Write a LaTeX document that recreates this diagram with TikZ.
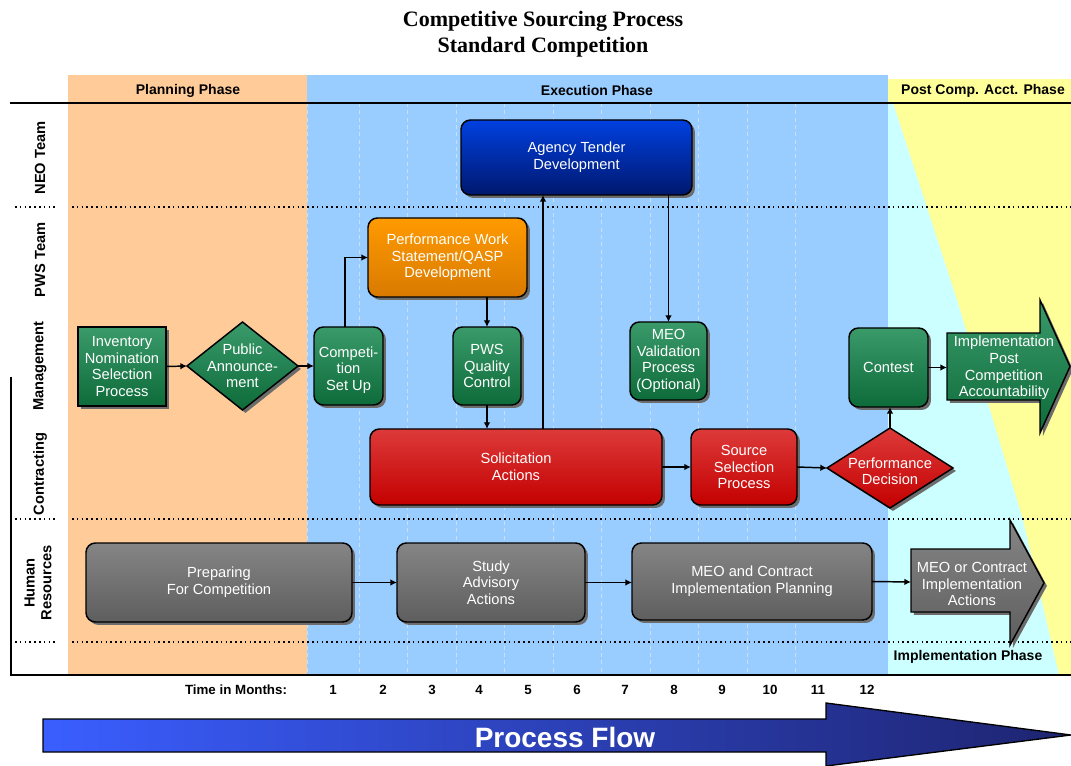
\documentclass[tikz,border=0pt]{standalone}
\usepackage{fontspec}
\setmainfont{Liberation Sans}
\newfontfamily\titlefont{Liberation Serif}
\usetikzlibrary{shapes.geometric,shadows,arrows.meta,fit,calc}
\definecolor{bgOr}{HTML}{FFCC99}
\definecolor{bgBl}{HTML}{99CCFF}
\definecolor{bgCy}{HTML}{CCFFFF}
\definecolor{bgYe}{HTML}{FFFF99}
\definecolor{grnT}{HTML}{3A9A6A}
\definecolor{grnB}{HTML}{0E6B3A}
\definecolor{bluT}{HTML}{0040E0}
\definecolor{bluB}{HTML}{00186E}
\definecolor{orT}{HTML}{FF9A00}
\definecolor{orB}{HTML}{D97A00}
\definecolor{redT}{HTML}{DD3A3A}
\definecolor{redB}{HTML}{C40000}
\definecolor{gryT}{HTML}{858585}
\definecolor{gryB}{HTML}{5E5E5E}
\definecolor{pfL}{HTML}{3A5EFF}
\definecolor{pfR}{HTML}{1E2470}
\begin{document}
\begin{tikzpicture}[x=0.75pt,y=-0.75pt,
  every node/.style={inner sep=0pt,outer sep=0pt},
  boxtext/.style={text=white,align=center,font=\fontsize{11}{12.5}\selectfont},
  shad/.style={drop shadow={shadow xshift=2.2pt,shadow yshift=-2.2pt,fill=gray!85!black,opacity=1}},
  boxbase/.style={draw=black,line width=1.1pt,rounded corners=7pt,shad},
  gbox/.style={boxbase,top color=grnT,bottom color=grnB},
  obox/.style={boxbase,top color=orT,bottom color=orB},
  bbox/.style={boxbase,top color=bluT,bottom color=bluB},
  rbox/.style={boxbase,top color=redT,bottom color=redB},
  ybox/.style={boxbase,top color=gryT,bottom color=gryB},
  gdia/.style={diamond,draw=black,line width=1.1pt,top color=grnT,bottom color=grnB,shad},
  rdia/.style={diamond,draw=black,line width=1.1pt,top color=redT,bottom color=redB,shad},
  hdr/.style={font=\bfseries\fontsize{10.5}{12}\selectfont},
  lane/.style={font=\bfseries\fontsize{11}{12.5}\selectfont,rotate=90,align=center},
  tm/.style={font=\bfseries\fontsize{10}{12}\selectfont},
  gridln/.style={white!85!gray,line width=0.7pt,dash pattern=on 3pt off 2.5pt,opacity=0.6},
  dotsep/.style={black,line width=1.2pt,dash pattern=on 1.2pt off 2.4pt},
  arr/.style={black,line width=1.1pt,-{Latex[length=5pt,width=5pt]}}
]
\useasboundingbox (0,0) rectangle (1071,766);

% title
\node[font=\titlefont\bfseries\fontsize{16.5}{19}\selectfont] (title1) at (543,21) {Competitive Sourcing Process};
\node[font=\titlefont\bfseries\fontsize{16.5}{19}\selectfont] (title2) at (543,47) {Standard Competition};

% backgrounds
\fill[bgOr] (68,75) rectangle (307,675);
\fill[bgBl] (307,75) rectangle (888,675);
\fill[bgYe] (888,79) rectangle (1071,675);
\fill[bgCy] (888,103) -- (893,103) -- (957,300) -- (1023,520) -- (1059,675) -- (888,675) -- cycle;

% grid lines
\draw[gridln] (307,103) -- (307,675);
\foreach \i in {0,...,9} \draw[gridln] ({359+48.5*\i},103) -- ({359+48.5*\i},675);

% frame lines
\draw[line width=1.5pt] (10,103) -- (1071,103);
\draw[line width=1.5pt] (11,377) -- (11,675) -- (1071,675);
\foreach \y in {207,519,642} {
  \draw[dotsep] (15,\y) -- (55,\y);
  \draw[dotsep] (72,\y) -- (1071,\y);
}

% headers
\node[hdr] (hPlan) at (188,91) {Planning Phase};
\node[hdr] (hExec) at (597,91) {Execution Phase};
\node[hdr] (hPost) at (983,91) {Post Comp. Acct. Phase};
\node[hdr] (hImpl) at (968,657) {Implementation Phase};

% lane labels
\node[lane] (lNEO) at (40,158) {NEO Team};
\node[lane] (lPWS) at (40,260) {PWS Team};
\node[lane] (lMgmt) at (40,366) {Management};
\node[lane] (lCon) at (40,474) {Contracting};
\node[lane] (lHR) at (38,583) {Human\\Resources};

% boxes
\node[gbox,sharp corners,fit={(78,327) (166,406)}] (inv) {};
\node[boxtext] (invT) at (inv) {Inventory\\Nomination\\Selection\\Process};
\node[gdia,minimum width=111*0.75pt,minimum height=88*0.75pt] (pa) at (242.5,366) {};
\node[boxtext] (paT) at (pa) {Public\\Announce-\\ment};
\node[gbox,fit={(314,327) (383,405)}] (comp) {};
\node[boxtext] (compT) at ([yshift=-3pt]comp.center) {Competi-\\tion\\Set Up};
\node[obox,fit={(368,218) (527,297)}] (pws) {};
\node[boxtext] (pwsT) at (pws) {Performance Work\\Statement/QASP\\Development};
\node[gbox,fit={(453,327) (521,405)}] (qc) {};
\node[boxtext] (qcT) at (qc) {PWS\\Quality\\Control};
\node[bbox,fit={(461,120) (692,195)}] (atd) {};
\node[boxtext] (atdT) at (atd) {Agency Tender\\Development};
\node[gbox,fit={(630,322) (707,400)}] (meo) {};
\node[boxtext] (meoT) at (meo) {MEO\\Validation\\Process\\(Optional)};
\node[rbox,fit={(370,429) (662,505)}] (sol) {};
\node[boxtext] (solT) at (sol) {Solicitation\\Actions};
\node[rbox,fit={(691,429) (797,505)}] (ssp) {};
\node[boxtext] (sspT) at (ssp) {Source\\Selection\\Process};
\node[rdia,minimum width=126*0.75pt,minimum height=80*0.75pt] (pd) at (890,468) {};
\node[boxtext] (pdT) at ([yshift=-2.5pt]pd.center) {Performance\\Decision};
\node[gbox,fit={(849,328) (928,407)}] (cont) {};
\node[boxtext] (contT) at (cont) {Contest};

% green block arrow
\draw[black,line width=1.1pt,top color=grnT,bottom color=grnB,shad]
  (947,333) -- (1040,333) -- (1040,300) -- (1070,366.5) -- (1040,433) -- (1040,400) -- (947,400) -- cycle;
\node[boxtext] (impl) at (1004,368) {Implementation\\Post\\Competition\\Accountability};
\coordinate (implL) at (947,367.5);

% gray row
\node[ybox,fit={(86,543) (352,622)}] (prep) {};
\node[boxtext] (prepT) at (prep) {Preparing\\For Competition};
\node[ybox,fit={(397,543) (585,622)}] (study) {};
\node[boxtext] (studyT) at (study) {Study\\Advisory\\Actions};
\node[ybox,fit={(632,543) (872,620)}] (plan) {};
\node[boxtext] (planT) at (plan) {MEO and Contract\\Implementation Planning};
\draw[black,line width=1.1pt,top color=gryT,bottom color=gryB,shad]
  (911,549) -- (1010,549) -- (1010,520) -- (1044,583) -- (1010,645) -- (1010,612) -- (911,612) -- cycle;
\node[boxtext] (act) at (972,584) {MEO or Contract\\Implementation\\Actions};
\coordinate (actL) at (911,582);
\coordinate (lnA) at (543,0);

% connectors
\draw[arr] (inv.east) -- (pa.west);
\draw[arr] (pa.east) -- (comp.west |- pa.east);
\draw[arr] ([xshift=-2.6pt]comp.north) |- (pws.west);
\draw[arr] (pws.south -| qc.north) -- (qc.north);
\draw[arr] (qc.south) -- (qc.south |- sol.north);
\draw[arr] (sol.north -| lnA) -- (atd.south -| lnA);
\draw[arr] (atd.south -| meo.north) -- (meo.north);
\draw[arr] (sol.east) -- (ssp.west);
\draw[arr] (ssp.east) -- (pd.west);
\draw[arr] (pd.north) -- (pd.north |- cont.south);
\draw[arr] (cont.east) -- (implL);
\draw[arr] (prep.east) -- (study.west);
\draw[arr] (study.east) -- (plan.west |- study.east);
\draw[arr] (plan.east) -- (actL);

% time row
\node[tm] (tlab) at (236,690) {Time in Months:};
\foreach \n/\x in {1/333,2/383,3/432,4/479,5/528,6/577,7/625,8/674,9/722,10/770,11/818,12/867}
  \node[tm] (m\n) at (\x,690) {\n};

% process flow arrow
\draw[black,line width=1pt,left color=pfL,right color=pfR]
  (43,719) -- (826,719) -- (826,703) -- (1071,735) -- (826,766) -- (826,752) -- (43,752) -- cycle;
\node[text=white,font=\bfseries\fontsize{21}{24}\selectfont] (pf) at (565,737) {Process Flow};
\end{tikzpicture}
\end{document}
